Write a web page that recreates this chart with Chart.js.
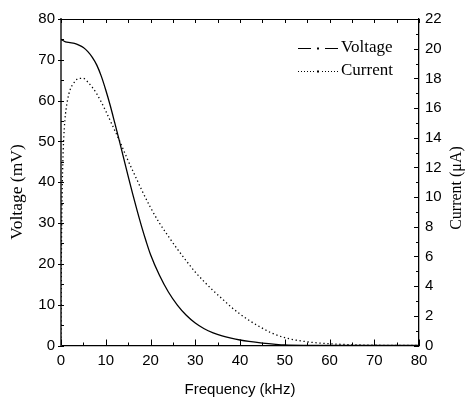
<!DOCTYPE html>
<html>
<head>
<meta charset="utf-8">
<script src="https://cdn.jsdelivr.net/npm/chart.js@4/dist/chart.umd.min.js"></script>
<style>
  html, body { margin: 0; padding: 0; background: #fff; }
  canvas { display: block; }
</style>
</head>
<body>
<canvas id="plot" width="466" height="400"></canvas>
<script>
// frequency (kHz) and measured voltage (mV)
const freqV = [0, 1, 2, 3, 4, 5, 6, 7, 8, 9, 10, 11, 12, 13, 14, 15, 16, 17, 18, 19, 20, 22, 24, 26, 28, 30, 32, 34, 36, 38, 40, 42, 45, 48, 50, 55, 60, 80];
const voltage = [75.0, 74.4, 74.2, 74.0, 73.6, 73.0, 72.0, 70.6, 68.7, 66.0, 62.6, 58.8, 54.6, 50.3, 45.9, 41.5, 37.2, 33.1, 29.2, 25.6, 22.3, 17.2, 13.1, 9.9, 7.4, 5.5, 4.1, 3.1, 2.35, 1.8, 1.35, 1.0, 0.6, 0.3, 0.15, 0.03, 0, 0];

// frequency (kHz) and current (uA), right hand axis
const freqI = [0, 0.05, 0.1, 0.2, 0.3, 0.5, 0.75, 1, 1.5, 2, 3, 4, 5, 6, 7, 8, 9, 10, 11, 12, 13, 14, 15, 16, 17, 18, 20, 22, 24, 26, 28, 30, 32, 34, 36, 38, 40, 42, 44.5, 47, 50, 55, 60, 65, 70, 80];
const current = [0, 4, 6.5, 9.2, 11, 13.2, 14.7, 15.6, 16.6, 17.2, 17.75, 18.0, 18.0, 17.75, 17.4, 16.95, 16.4, 15.8, 15.15, 14.5, 13.85, 13.15, 12.45, 11.8, 11.15, 10.5, 9.3, 8.25, 7.35, 6.5, 5.7, 4.95, 4.3, 3.7, 3.15, 2.6, 2.12, 1.7, 1.25, 0.85, 0.53, 0.25, 0.12, 0.05, 0.02, 0];

const seriesNames = ["Voltage", "Current"];
const axisTitles = ["Voltage (mV)", "Current (μA)"];

const sans = "'Liberation Sans', Arial, sans-serif";
const serif = "'Liberation Serif', 'Times New Roman', serif";

// inside tick marks, the top frame line and both vertical axis titles
const frameTicks = {
  id: "frameTicks",
  afterDraw(chart) {
    const { ctx, chartArea: a, scales } = chart;
    const { x, y, y1 } = scales;
    ctx.save();
    ctx.strokeStyle = "#000";
    ctx.lineWidth = 1;
    ctx.beginPath();
    ctx.moveTo(a.left, a.top + 0.5);
    ctx.lineTo(a.right, a.top + 0.5);
    for (let v = 0; v <= 80; v += 5) {
      const px = Math.round(x.getPixelForValue(v)) + 0.5;
      const len = v % 10 === 0 ? 6 : 3;
      ctx.moveTo(px, a.bottom);
      ctx.lineTo(px, a.bottom - len);
      ctx.moveTo(px, a.top);
      ctx.lineTo(px, a.top + 4);
    }
    for (let v = 0; v <= 80; v += 5) {
      const py = Math.round(y.getPixelForValue(v)) + 0.5;
      if (v % 10 === 0) {
        ctx.moveTo(a.left - 3, py);
        ctx.lineTo(a.left + 3, py);
      } else {
        ctx.moveTo(a.left, py);
        ctx.lineTo(a.left + 3, py);
      }
    }
    for (let v = 0; v <= 22; v += 1) {
      const py = Math.round(y1.getPixelForValue(v)) + 0.5;
      const len = v % 2 === 0 ? 5 : 3;
      ctx.moveTo(a.right, py);
      ctx.lineTo(a.right - len, py);
    }
    ctx.stroke();

    // both titles read bottom to top
    ctx.fillStyle = "#000";
    ctx.textAlign = "center";
    ctx.textBaseline = "middle";
    const titleSpots = [[17, 192, 17.5], [457, 188, 16]];
    axisTitles.forEach((t, i) => {
      const [tx, ty, size] = titleSpots[i];
      ctx.save();
      ctx.translate(tx, ty);
      ctx.rotate(-Math.PI / 2);
      ctx.font = size + "px " + serif;
      ctx.fillText(t, 0, 0);
      ctx.restore();
    });
    ctx.restore();
  }
};

// legend box in the upper right corner of the plot
const cornerLegend = {
  id: "cornerLegend",
  afterDraw(chart) {
    const { ctx } = chart;
    const names = chart.data.datasets.map(d => d.label);
    const x0 = 298, x1 = 338;
    const rows = [48, 71];
    ctx.save();
    ctx.fillStyle = "#000";
    ctx.strokeStyle = "#000";
    ctx.font = "17px " + serif;
    ctx.textBaseline = "middle";
    ctx.textAlign = "left";
    names.forEach((name, i) => {
      const ry = rows[i] + 0.5;
      ctx.beginPath();
      if (i === 0) {
        ctx.lineWidth = 1.2;
        ctx.moveTo(x0, ry); ctx.lineTo(x0 + 13, ry);
        ctx.moveTo(x1 - 13, ry); ctx.lineTo(x1, ry);
        ctx.stroke();
        ctx.fillRect(317, ry - 1, 2, 2);
      } else {
        for (let px = x0; px <= x1; px += 3) {
          if (Math.abs(px - 318) < 3) continue;
          ctx.fillRect(px, ry - 0.5, 1, 1);
        }
        ctx.fillRect(317, ry - 1, 2, 2);
      }
      ctx.fillText(name, 341, rows[i]);
    });
    ctx.restore();
  }
};

new Chart(document.getElementById("plot"), {
  type: "line",
  data: {
    datasets: [
      {
        label: seriesNames[0],
        data: freqV.map((f, i) => ({ x: f, y: voltage[i] })),
        yAxisID: "y",
        borderColor: "#000",
        borderWidth: 1.3,
        pointRadius: 0,
        cubicInterpolationMode: "monotone",
        fill: false
      },
      {
        label: seriesNames[1],
        data: freqI.map((f, i) => ({ x: f, y: current[i] })),
        yAxisID: "y1",
        borderColor: "#000",
        borderWidth: 1.3,
        borderDash: [1.3, 2.7],
        pointRadius: 0,
        cubicInterpolationMode: "monotone",
        fill: false
      }
    ]
  },
  options: {
    responsive: false,
    animation: false,
    devicePixelRatio: 1,
    layout: { padding: { top: 19, left: 0, right: 0, bottom: 0 } },
    plugins: {
      legend: { display: false },
      tooltip: { enabled: false }
    },
    scales: {
      x: {
        type: "linear",
        position: "bottom",
        min: 0,
        max: 80,
        ticks: { stepSize: 10, color: "#000", padding: 6, maxRotation: 0, font: { family: sans, size: 15 } },
        grid: { display: false, drawTicks: false },
        border: { color: "#000", width: 1.3 },
        title: { display: true, text: "Frequency (kHz)", color: "#000", font: { family: sans, size: 15, lineHeight: 1 }, padding: { top: 0, bottom: 3 } },
        afterFit: s => { s.height = 54.5; }
      },
      y: {
        position: "left",
        min: 0,
        max: 80,
        ticks: { stepSize: 10, color: "#000", padding: 6, font: { family: sans, size: 15 } },
        grid: { display: false, drawTicks: false },
        border: { color: "#555", width: 2 },
        afterFit: s => { s.width = 61; }
      },
      y1: {
        position: "right",
        min: 0,
        max: 22,
        ticks: { stepSize: 2, color: "#000", padding: 6, font: { family: sans, size: 15 } },
        grid: { display: false, drawTicks: false },
        border: { color: "#000", width: 1.3 },
        afterFit: s => { s.width = 47; }
      }
    }
  },
  plugins: [frameTicks, cornerLegend]
});
</script>
</body>
</html>
